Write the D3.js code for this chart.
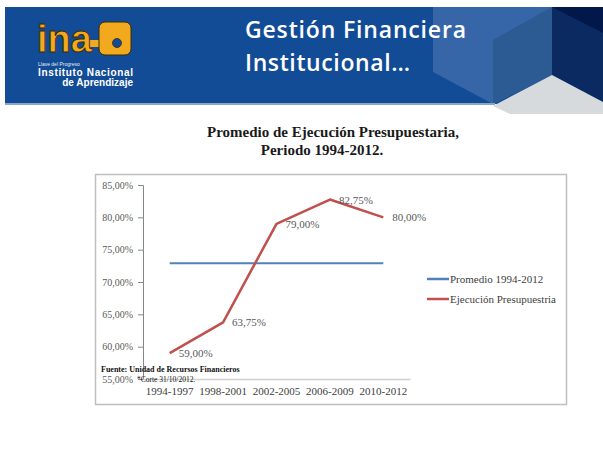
<!DOCTYPE html>
<html><head><meta charset="utf-8">
<script src="https://cdn.jsdelivr.net/npm/d3@7"></script>
<style>body{margin:0;background:#fff}svg{display:block}</style>
</head><body>
<svg id="c" width="603" height="459"></svg>
<script>
const categories = ["1994-1997","1998-2001","2002-2005","2006-2009","2010-2012"];
const ejecucion = [59.00, 63.75, 79.00, 82.75, 80.00];
const promedio = [72.9, 72.9, 72.9, 72.9, 72.9];
const yTicks = [55,60,65,70,75,80,85];
const seriesNames = ["Promedio 1994-2012","Ejecución Presupuestria"];
const seriesColors = ["#4f81bd","#c0504d"];

const SERIF = "'Liberation Serif', 'Times New Roman', serif";
const SANS = "'Liberation Sans', Arial, sans-serif";
const svg = d3.select("#c");

// ----- header band -----
const hdr = svg.append("g");
hdr.append("rect").attr("x",5).attr("y",7).attr("width",598).attr("height",97).attr("fill","#124c96");
hdr.append("polygon").attr("points","433,7 552,7 552,75 493,104 433,72").attr("fill","#3766a8");
hdr.append("polygon").attr("points","493,40 552,7 552,75 493,104").attr("fill","#2c5a93");
hdr.append("polygon").attr("points","552,7 603,7 603,104 552,75").attr("fill","#0b2a62");
hdr.append("polygon").attr("points","552,7 603,7 603,33").attr("fill","#02174a");
hdr.append("polygon").attr("points","493,106 552,75 603,102 603,114 510,114").attr("fill","#d6dadd");
hdr.append("rect").attr("x",5).attr("y",103).attr("width",490).attr("height",2).attr("fill","#8aa6cc");

// logo
const lg = svg.append("g");
lg.append("rect").attr("x",86).attr("y",40).attr("width",18).attr("height",7).attr("fill","#f2a91e");
lg.append("rect").attr("x",99).attr("y",22).attr("width",32).attr("height",33).attr("rx",6).attr("fill","#f2a91e").attr("stroke","#3b2a05").attr("stroke-width",1);
lg.append("circle").attr("cx",117).attr("cy",43).attr("r",4.5).attr("fill","#124c96").attr("stroke","#3b2a05").attr("stroke-width",0.8);
lg.append("text").attr("x",37).attr("y",52).text("ina")
  .attr("font-family",SANS).attr("font-weight","bold").attr("font-size",38)
  .attr("fill","#f2a91e").attr("stroke","#3b2a05").attr("stroke-width",0.9);
lg.append("text").attr("x",38).attr("y",65.5).text("Llave del Progreso")
  .attr("font-family",SANS).attr("font-size",5).attr("fill","#e6ecf5");
lg.append("text").attr("x",38).attr("y",76).text("Instituto Nacional")
  .attr("font-family",SANS).attr("font-weight","bold").attr("font-size",10).attr("fill","#ffffff").attr("textLength",95);
lg.append("text").attr("x",133).attr("y",86).attr("text-anchor","end").text("de Aprendizaje")
  .attr("font-family",SANS).attr("font-weight","bold").attr("font-size",10).attr("fill","#ffffff");

// header title
const ht = svg.append("g").attr("font-family","'Open Sans', sans-serif").attr("font-weight","600").attr("font-size",23).attr("fill","#ffffff");
ht.append("text").attr("x",245).attr("y",38).text("Gestión Financiera").attr("textLength",221);
ht.append("text").attr("x",245).attr("y",71).text("Institucional…").attr("textLength",165);

// chart title
const ct = svg.append("g").attr("font-family",SERIF).attr("font-weight","bold").attr("font-size",15).attr("fill","#1a1a1a").attr("text-anchor","middle");
ct.append("text").attr("x",333).attr("y",137).text("Promedio de Ejecución Presupuestaria,");
ct.append("text").attr("x",322).attr("y",155).text("Periodo 1994-2012.");

// chart box
svg.append("rect").attr("x",95.5).attr("y",174.5).attr("width",471).attr("height",230).attr("fill","#fff").attr("stroke","#bfbfbf").attr("stroke-width",1.5);

const x = d3.scaleBand().domain(categories).range([143,410]);
const y = d3.scaleLinear().domain([55,85]).range([379,185]);
const cx = d => x(d) + x.bandwidth()/2;
const fmt = v => d3.format(".2f")(v).replace(".",",") + "%";

// y axis
const ya = svg.append("g").attr("transform","translate(143,0)")
  .call(d3.axisLeft(y).tickValues(yTicks).tickFormat(fmt).tickSize(5).tickSizeOuter(5).tickPadding(5));
ya.attr("font-family",SERIF);
ya.select(".domain").attr("stroke","#868686");
ya.selectAll(".tick line").attr("stroke","#868686");
ya.selectAll("text").attr("font-family",SERIF).attr("font-size",10).attr("fill","#595959");

// x axis
const xa = svg.append("g").attr("transform","translate(0,379)")
  .call(d3.axisBottom(x).tickSize(0).tickSizeOuter(0).tickPadding(8));
xa.attr("font-family",SERIF);
xa.select(".domain").attr("stroke","#d0d0d0").attr("stroke-width",1.5);
xa.selectAll("text").attr("font-family",SERIF).attr("font-size",11).attr("fill","#404040");

// lines
const line = d3.line().x((d,i)=>cx(categories[i])).y(d=>y(d));
svg.append("path").datum(promedio).attr("d",line).attr("fill","none").attr("stroke",seriesColors[0]).attr("stroke-width",2.2);
svg.append("path").datum(ejecucion).attr("d",line).attr("fill","none").attr("stroke",seriesColors[1]).attr("stroke-width",2.5).attr("stroke-linejoin","round");

// data labels
svg.append("g").selectAll("text").data(ejecucion).join("text")
  .attr("x",(d,i)=>cx(categories[i])+9).attr("y",d=>y(d)+4)
  .attr("font-family",SERIF).attr("font-size",11).attr("fill","#595959")
  .text(d=>fmt(d));

// footnotes
svg.append("text").attr("x",101).attr("y",372).text("Fuente: Unidad de Recursos Financieros")
  .attr("font-family",SERIF).attr("font-weight","bold").attr("font-size",8).attr("fill","#111");
svg.append("text").attr("x",137).attr("y",382).text("*Corte 31/10/2012.")
  .attr("font-family",SERIF).attr("font-size",7.5).attr("fill","#111");

// legend
const leg = svg.append("g").selectAll("g").data(seriesNames).join("g")
  .attr("transform",(d,i)=>`translate(427,${279+i*20})`);
leg.append("line").attr("x1",0).attr("x2",22).attr("stroke",(d,i)=>seriesColors[i]).attr("stroke-width",2.5);
leg.append("text").attr("x",23).attr("y",4).text(d=>d)
  .attr("font-family",SERIF).attr("font-size",11).attr("fill","#404040");
</script>
</body></html>
